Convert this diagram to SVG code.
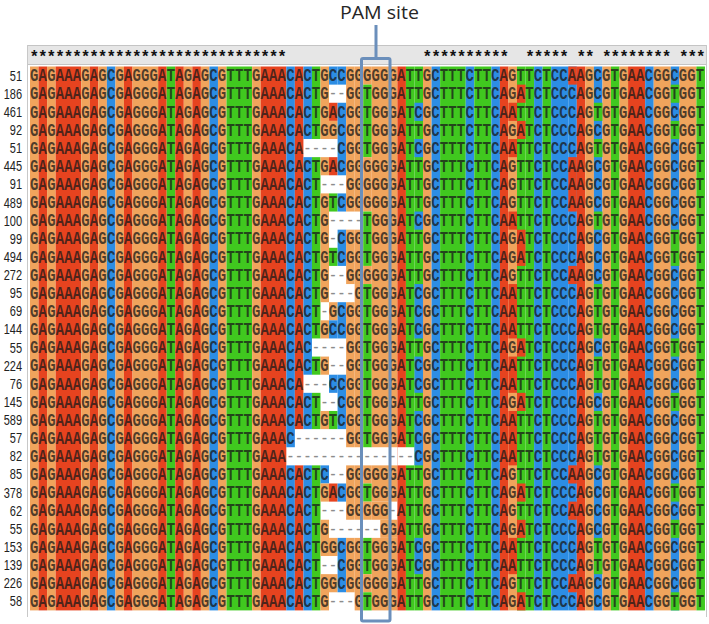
<svg xmlns="http://www.w3.org/2000/svg" width="709" height="624" viewBox="0 0 709 624">
<style>
.G{fill:#F0A45C}.A{fill:#E6431F}.C{fill:#2C8DE4}.T{fill:#40C81F}.W{fill:#fff}
.seq{font-family:"Liberation Mono","DejaVu Sans Mono",monospace;font-size:14px;font-weight:bold;letter-spacing:0.144px;fill:#1a1a1a;fill-opacity:0.75}
.d{fill:#8c8c8c;fill-opacity:1;font-weight:normal}
.lab{font-family:"Liberation Sans",Arial,sans-serif;font-size:11px;fill:#222;text-anchor:end}
.pam{fill:none;stroke:#6b8fbb;stroke-width:3}
</style>
<rect width="709" height="624" fill="#fff"/>
<g id="panel">
<rect x="27.5" y="45.5" width="679" height="19" fill="#e6e6e6" stroke="#c4c4c4"/>
<line x1="27.5" y1="45" x2="27.5" y2="617" stroke="#c8c8c8"/>
<line x1="706.5" y1="45" x2="706.5" y2="617" stroke="#c8c8c8"/>
</g>
<g id="cells" transform="translate(30 66.5) scale(8.544 18.13)">
<rect class="G" x="0" y="0" width="1" height="30"/><rect class="A" x="1" y="0" width="1" height="30"/><rect class="G" x="2" y="0" width="1" height="30"/><rect class="A" x="3" y="0" width="3" height="30"/><rect class="G" x="6" y="0" width="1" height="30"/><rect class="A" x="7" y="0" width="1" height="30"/><rect class="G" x="8" y="0" width="1" height="30"/><rect class="C" x="9" y="0" width="1" height="30"/><rect class="G" x="10" y="0" width="1" height="30"/><rect class="A" x="11" y="0" width="1" height="30"/><rect class="G" x="12" y="0" width="3" height="30"/><rect class="A" x="15" y="0" width="1" height="30"/><rect class="T" x="16" y="0" width="1" height="30"/><rect class="A" x="17" y="0" width="1" height="30"/><rect class="G" x="18" y="0" width="1" height="30"/><rect class="A" x="19" y="0" width="1" height="30"/><rect class="G" x="20" y="0" width="1" height="30"/><rect class="C" x="21" y="0" width="1" height="30"/><rect class="G" x="22" y="0" width="1" height="30"/><rect class="T" x="23" y="0" width="3" height="30"/><rect class="G" x="26" y="0" width="1" height="30"/><rect class="A" x="27" y="0" width="3" height="30"/>
<rect class="C" x="30" y="0" width="1" height="21"/><rect class="C" x="30" y="22" width="1" height="8"/>
<rect class="A" x="31" y="0" width="1" height="20"/><rect class="A" x="31" y="22" width="1" height="8"/>
<rect class="C" x="32" y="0" width="1" height="4"/><rect class="C" x="32" y="5" width="1" height="12"/><rect class="C" x="32" y="18" width="1" height="2"/><rect class="C" x="32" y="22" width="1" height="8"/>
<rect class="T" x="33" y="0" width="1" height="4"/><rect class="T" x="33" y="5" width="1" height="10"/><rect class="T" x="33" y="16" width="1" height="1"/><rect class="T" x="33" y="18" width="1" height="2"/><rect class="T" x="33" y="22" width="1" height="8"/>
<rect class="G" x="34" y="0" width="1" height="4"/><rect class="G" x="34" y="5" width="1" height="1"/><rect class="G" x="34" y="7" width="1" height="6"/><rect class="G" x="34" y="14" width="1" height="1"/><rect class="G" x="34" y="16" width="1" height="1"/><rect class="G" x="34" y="19" width="1" height="1"/><rect class="C" x="34" y="22" width="1" height="1"/><rect class="G" x="34" y="23" width="1" height="1"/><rect class="G" x="34" y="25" width="1" height="2"/><rect class="G" x="34" y="28" width="1" height="2"/>
<rect class="C" x="35" y="0" width="1" height="1"/><rect class="A" x="35" y="2" width="1" height="1"/><rect class="G" x="35" y="3" width="1" height="1"/><rect class="A" x="35" y="5" width="1" height="1"/><rect class="T" x="35" y="7" width="1" height="1"/><rect class="T" x="35" y="10" width="1" height="1"/><rect class="G" x="35" y="13" width="1" height="1"/><rect class="C" x="35" y="14" width="1" height="1"/><rect class="C" x="35" y="17" width="1" height="1"/><rect class="T" x="35" y="19" width="1" height="1"/><rect class="A" x="35" y="23" width="1" height="1"/><rect class="G" x="35" y="26" width="1" height="1"/><rect class="G" x="35" y="28" width="1" height="1"/>
<rect class="C" x="36" y="0" width="1" height="1"/><rect class="C" x="36" y="2" width="1" height="4"/><rect class="C" x="36" y="7" width="1" height="1"/><rect class="C" x="36" y="9" width="1" height="2"/><rect class="C" x="36" y="13" width="1" height="2"/><rect class="C" x="36" y="17" width="1" height="3"/><rect class="C" x="36" y="23" width="1" height="1"/><rect class="C" x="36" y="26" width="1" height="3"/>
<rect class="G" x="37" y="0" width="1" height="8"/><rect class="G" x="37" y="9" width="1" height="3"/><rect class="G" x="37" y="13" width="1" height="8"/><rect class="G" x="37" y="22" width="1" height="3"/><rect class="G" x="37" y="26" width="1" height="3"/>
<rect class="G" x="38" y="0" width="1" height="8"/><rect class="G" x="38" y="9" width="1" height="12"/><rect class="G" x="38" y="22" width="1" height="3"/><rect class="G" x="38" y="26" width="1" height="4"/>
<rect class="G" x="39" y="0" width="1" height="1"/><rect class="T" x="39" y="1" width="1" height="4"/><rect class="G" x="39" y="5" width="1" height="3"/><rect class="T" x="39" y="8" width="1" height="3"/><rect class="G" x="39" y="11" width="1" height="1"/><rect class="T" x="39" y="12" width="1" height="9"/><rect class="G" x="39" y="22" width="1" height="1"/><rect class="T" x="39" y="23" width="1" height="1"/><rect class="G" x="39" y="24" width="1" height="1"/><rect class="T" x="39" y="26" width="1" height="2"/><rect class="G" x="39" y="28" width="1" height="1"/><rect class="T" x="39" y="29" width="1" height="1"/>
<rect class="G" x="40" y="0" width="3" height="21"/><rect class="G" x="40" y="22" width="3" height="2"/><rect class="G" x="40" y="24" width="2" height="1"/><rect class="G" x="41" y="25" width="2" height="1"/><rect class="G" x="40" y="26" width="3" height="4"/>
<rect class="A" x="43" y="0" width="1" height="30"/><rect class="T" x="44" y="0" width="1" height="30"/><rect class="T" x="45" y="0" width="1" height="30"/><rect class="G" x="46" y="0" width="1" height="30"/><rect class="C" x="47" y="0" width="1" height="30"/><rect class="T" x="48" y="0" width="3" height="30"/><rect class="C" x="51" y="0" width="1" height="30"/><rect class="T" x="52" y="0" width="2" height="30"/><rect class="C" x="54" y="0" width="1" height="30"/><rect class="A" x="55" y="0" width="1" height="30"/><rect class="G" x="56" y="0" width="1" height="30"/><rect class="T" x="57" y="0" width="1" height="30"/><rect class="T" x="58" y="0" width="1" height="30"/><rect class="C" x="59" y="0" width="1" height="30"/><rect class="T" x="60" y="0" width="1" height="30"/><rect class="C" x="61" y="0" width="2" height="30"/><rect class="C" x="63" y="0" width="1" height="30"/><rect class="A" x="64" y="0" width="1" height="30"/><rect class="G" x="65" y="0" width="1" height="30"/><rect class="C" x="66" y="0" width="1" height="30"/><rect class="G" x="67" y="0" width="1" height="30"/><rect class="T" x="68" y="0" width="1" height="30"/><rect class="G" x="69" y="0" width="1" height="30"/><rect class="A" x="70" y="0" width="2" height="30"/><rect class="C" x="72" y="0" width="1" height="30"/><rect class="G" x="73" y="0" width="2" height="30"/><rect class="C" x="75" y="0" width="1" height="30"/><rect class="G" x="76" y="0" width="2" height="30"/><rect class="T" x="78" y="0" width="1" height="30"/>
<rect class="W" x="43" y="21" width="2" height="1"/>
<g class="C"><rect x="45" y="2" width="1" height="1"/><rect x="45" y="4" width="1" height="1"/><rect x="45" y="8" width="1" height="1"/><rect x="45" y="12" width="1" height="3"/><rect x="45" y="16" width="1" height="2"/><rect x="45" y="19" width="1" height="3"/><rect x="45" y="26" width="1" height="2"/></g>
<g class="A"><rect x="56" y="2" width="1" height="1"/><rect x="56" y="4" width="1" height="1"/><rect x="56" y="8" width="1" height="1"/><rect x="56" y="12" width="1" height="3"/><rect x="56" y="16" width="1" height="2"/><rect x="56" y="19" width="1" height="3"/><rect x="56" y="26" width="1" height="2"/></g>
<g class="T"><rect x="66" y="2" width="1" height="1"/><rect x="66" y="4" width="1" height="1"/><rect x="66" y="8" width="1" height="1"/><rect x="66" y="12" width="1" height="3"/><rect x="66" y="16" width="1" height="2"/><rect x="66" y="19" width="1" height="3"/><rect x="66" y="26" width="1" height="2"/></g>
<g class="A"><rect x="57" y="1" width="1" height="1"/><rect x="57" y="3" width="1" height="1"/><rect x="57" y="9" width="1" height="2"/><rect x="57" y="15" width="1" height="1"/><rect x="57" y="18" width="1" height="1"/><rect x="57" y="23" width="1" height="1"/><rect x="57" y="25" width="1" height="1"/><rect x="57" y="29" width="1" height="1"/></g>
<g class="T"><rect x="75" y="1" width="1" height="1"/><rect x="75" y="3" width="1" height="1"/><rect x="75" y="9" width="1" height="2"/><rect x="75" y="15" width="1" height="1"/><rect x="75" y="18" width="1" height="1"/><rect x="75" y="23" width="1" height="1"/><rect x="75" y="25" width="1" height="1"/><rect x="75" y="29" width="1" height="1"/></g>
<g class="A"><rect x="63" y="0" width="1" height="1"/><rect x="63" y="5" width="1" height="3"/><rect x="63" y="11" width="1" height="1"/><rect x="63" y="22" width="1" height="1"/><rect x="63" y="24" width="1" height="1"/><rect x="63" y="28" width="1" height="1"/></g>
</g>
<g id="stars"><text x="29.5" y="62" xml:space="preserve" font-family="'Liberation Mono','DejaVu Sans Mono',monospace" font-size="16" font-weight="bold" letter-spacing="-1.056" fill="#111">******************************                **********  ***** ** ******** ***</text></g>
<g id="letters" class="seq" transform="translate(30.07 81.3) scale(1 1.25)">
<text y="0">GAGAAAGAGCGAGGGATAGAGCGTTTGAAACACTGCCGGGGGGATTGCTTTCTTCAGTTCTCCAAGCGTGAACGGCGGT</text>
<text y="14.504">GAGAAAGAGCGAGGGATAGAGCGTTTGAAACACTG<tspan class="d">--</tspan>GGTGGGATTGCTTTCTTCAGATCTCCCAGCGTGAACGGTGGT</text>
<text y="29.008">GAGAAAGAGCGAGGGATAGAGCGTTTGAAACACTGACGGTGGGATCGCTTTCTTCAATTCTCCCAGTGTGAACGGCGGT</text>
<text y="43.512">GAGAAAGAGCGAGGGATAGAGCGTTTGAAACACTGGCGGTGGGATTGCTTTCTTCAGATCTCCCAGCGTGAACGGTGGT</text>
<text y="58.016">GAGAAAGAGCGAGGGATAGAGCGTTTGAAACA<tspan class="d">----</tspan>CGGTGGGATCGCTTTCTTCAATTCTCCCAGTGTGAACGGCGGT</text>
<text y="72.52">GAGAAAGAGCGAGGGATAGAGCGTTTGAAACACTGACGGGGGGATTGCTTTCTTCAGTTCTCCAAGCGTGAACGGCGGT</text>
<text y="87.024">GAGAAAGAGCGAGGGATAGAGCGTTTGAAACACT<tspan class="d">---</tspan>GGGGGGATTGCTTTCTTCAGTTCTCCAAGCGTGAACGGCGGT</text>
<text y="101.528">GAGAAAGAGCGAGGGATAGAGCGTTTGAAACACTGTCGGGGGGATTGCTTTCTTCAGTTCTCCAAGCGTGAACGGCGGT</text>
<text y="116.032">GAGAAAGAGCGAGGGATAGAGCGTTTGAAACACTG<tspan class="d">----</tspan>TGGGATCGCTTTCTTCAATTCTCCCAGTGTGAACGGCGGT</text>
<text y="130.536">GAGAAAGAGCGAGGGATAGAGCGTTTGAAACACTG<tspan class="d">-</tspan>CGGTGGGATTGCTTTCTTCAGATCTCCCAGCGTGAACGGTGGT</text>
<text y="145.04">GAGAAAGAGCGAGGGATAGAGCGTTTGAAACACTGTCGGTGGGATTGCTTTCTTCAGATCTCCCAGCGTGAACGGTGGT</text>
<text y="159.544">GAGAAAGAGCGAGGGATAGAGCGTTTGAAACACTG<tspan class="d">--</tspan>GGGGGGATTGCTTTCTTCAGTTCTCCAAGCGTGAACGGCGGT</text>
<text y="174.048">GAGAAAGAGCGAGGGATAGAGCGTTTGAAACACTG<tspan class="d">---</tspan>GTGGGATCGCTTTCTTCAATTCTCCCAGTGTGAACGGCGGT</text>
<text y="188.552">GAGAAAGAGCGAGGGATAGAGCGTTTGAAACACT<tspan class="d">-</tspan>GCGGTGGGATCGCTTTCTTCAATTCTCCCAGTGTGAACGGCGGT</text>
<text y="203.056">GAGAAAGAGCGAGGGATAGAGCGTTTGAAACACTGCCGGTGGGATCGCTTTCTTCAATTCTCCCAGTGTGAACGGCGGT</text>
<text y="217.56">GAGAAAGAGCGAGGGATAGAGCGTTTGAAACAC<tspan class="d">----</tspan>GGTGGGATTGCTTTCTTCAGATCTCCCAGCGTGAACGGTGGT</text>
<text y="232.064">GAGAAAGAGCGAGGGATAGAGCGTTTGAAACACTG<tspan class="d">--</tspan>GGTGGGATCGCTTTCTTCAATTCTCCCAGTGTGAACGGCGGT</text>
<text y="246.568">GAGAAAGAGCGAGGGATAGAGCGTTTGAAACA<tspan class="d">---</tspan>CCGGTGGGATCGCTTTCTTCAATTCTCCCAGTGTGAACGGCGGT</text>
<text y="261.072">GAGAAAGAGCGAGGGATAGAGCGTTTGAAACACT<tspan class="d">--</tspan>CGGTGGGATTGCTTTCTTCAGATCTCCCAGCGTGAACGGTGGT</text>
<text y="275.576">GAGAAAGAGCGAGGGATAGAGCGTTTGAAACACTGTCGGTGGGATCGCTTTCTTCAATTCTCCCAGTGTGAACGGCGGT</text>
<text y="290.08">GAGAAAGAGCGAGGGATAGAGCGTTTGAAAC<tspan class="d">------</tspan>GGTGGGATCGCTTTCTTCAATTCTCCCAGTGTGAACGGCGGT</text>
<text y="304.584">GAGAAAGAGCGAGGGATAGAGCGTTTGAAA<tspan class="d">---------------</tspan>CGCTTTCTTCAATTCTCCCAGTGTGAACGGCGGT</text>
<text y="319.088">GAGAAAGAGCGAGGGATAGAGCGTTTGAAACACTC<tspan class="d">--</tspan>GGGGGGATTGCTTTCTTCAGTTCTCCAAGCGTGAACGGCGGT</text>
<text y="333.592">GAGAAAGAGCGAGGGATAGAGCGTTTGAAACACTGACGGTGGGATTGCTTTCTTCAGATCTCCCAGCGTGAACGGTGGT</text>
<text y="348.096">GAGAAAGAGCGAGGGATAGAGCGTTTGAAACACT<tspan class="d">---</tspan>GGGGG<tspan class="d">-</tspan>ATTGCTTTCTTCAGTTCTCCAAGCGTGAACGGCGGT</text>
<text y="362.6">GAGAAAGAGCGAGGGATAGAGCGTTTGAAACACTG<tspan class="d">------</tspan>GGATTGCTTTCTTCAGATCTCCCAGCGTGAACGGTGGT</text>
<text y="377.104">GAGAAAGAGCGAGGGATAGAGCGTTTGAAACACTGGCGGTGGGATCGCTTTCTTCAATTCTCCCAGTGTGAACGGCGGT</text>
<text y="391.608">GAGAAAGAGCGAGGGATAGAGCGTTTGAAACACT<tspan class="d">--</tspan>CGGTGGGATCGCTTTCTTCAATTCTCCCAGTGTGAACGGCGGT</text>
<text y="406.112">GAGAAAGAGCGAGGGATAGAGCGTTTGAAACACTGGCGGGGGGATTGCTTTCTTCAGTTCTCCAAGCGTGAACGGCGGT</text>
<text y="420.616">GAGAAAGAGCGAGGGATAGAGCGTTTGAAACACTG<tspan class="d">---</tspan>GTGGGATTGCTTTCTTCAGATCTCCCAGCGTGAACGGTGGT</text>
</g>
<g id="labels" class="lab" transform="translate(22 80.6) scale(1 1.25)">
<text y="0">51</text><text y="14.504">186</text><text y="29.008">461</text><text y="43.512">92</text><text y="58.016">51</text><text y="72.52">445</text><text y="87.024">91</text><text y="101.528">489</text><text y="116.032">100</text><text y="130.536">99</text><text y="145.04">494</text><text y="159.544">272</text><text y="174.048">95</text><text y="188.552">69</text><text y="203.056">144</text><text y="217.56">55</text><text y="232.064">224</text><text y="246.568">76</text><text y="261.072">145</text><text y="275.576">589</text><text y="290.08">57</text><text y="304.584">82</text><text y="319.088">85</text><text y="333.592">378</text><text y="348.096">62</text><text y="362.6">55</text><text y="377.104">153</text><text y="391.608">139</text><text y="406.112">226</text><text y="420.616">58</text>
</g>
<g id="pam-label"><text x="340" y="19" font-family="'Open Sans','Liberation Sans',sans-serif" font-size="18.5" fill="#262626" textLength="79" lengthAdjust="spacingAndGlyphs">PAM site</text></g>
<g id="connectors"><line x1="376" y1="25" x2="376" y2="58.5" class="pam"/></g>
<g id="pam-box"><rect x="361.5" y="58.5" width="28.5" height="562.5" rx="1.5" class="pam"/></g>
</svg>
